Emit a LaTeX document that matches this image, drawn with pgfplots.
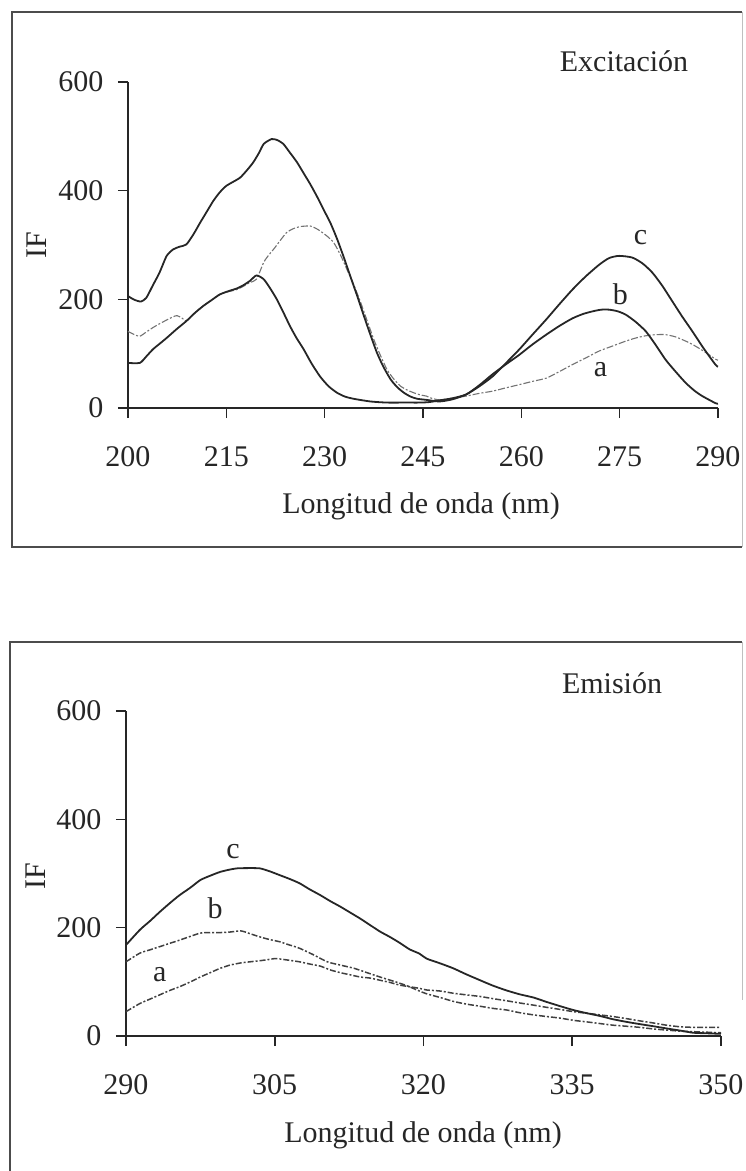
\documentclass[border=0pt]{standalone}
\usepackage{fontspec}
\setmainfont{Liberation Serif}
\usepackage{pgfplots}
\pgfplotsset{compat=1.18}

\pgfplotstableread{
x y
200 206
201 199
202 196
202.8 203
203.8 226
204.8 249
205.9 280
206.9 292
207.9 297
208.9 301
210 320
211 341
212 361
213 381
214 397
215 409
216 416
217.1 424
218.1 437
219.1 452
220 470
220.7 486
221.9 495
222.8 493
223.7 486
224.7 470
225.8 452
226.8 432
227.8 412
228.8 390
229.8 366
230.9 340
231.9 311
232.9 278
233.9 243
235 205
236 169
237 134
238 101
239 75
240.1 52
241.1 38
242.1 28
243.1 21
244.1 17
245.5 15
247.5 12
249.5 16
251.6 25
253.6 40
255.6 58
257.6 82
259.7 108
261.7 135
263.8 163
265.8 191
267.8 218
269.8 242
271.9 264
273.4 276
274.9 280
276.9 277
278.5 266
280 249
281.5 225
283 197
284.5 169
286.1 141
287.8 110
289.6 80
290 76
}\exc

\pgfplotstableread{
x y
200 83
201.8 83
202.8 95
203.8 108
204.9 119
205.9 129
207.4 145
208.9 160
210.2 175
211.5 188
212.8 199
214 209
215.3 215
216.6 220
217.6 226
218.6 234
219.6 244
220.7 237
221.7 220
222.7 200
223.7 176
224.7 151
225.7 129
226.8 108
228 82
229.3 58
230.6 40
231.9 28
233.1 21
234.4 17
237 12
239.5 10
242 10
244.6 10
246 11
247.5 14
249.5 18
251.6 25
253.6 42
255.6 62
257.6 80
259.7 98
261.7 117
263.8 135
265.8 151
267.8 165
269.4 173
270.9 178
272.2 181
273.4 181
274.7 178
275.9 172
277.4 159
279 141
280.5 116
282 89
283.6 66
285.1 46
286.4 32
287.6 22
289.6 9
290 8
}\exb

\pgfplotstableread{
x y
200 141
201 135
201.8 132
202.8 140
203.8 148
204.8 155
205.9 162
206.9 168
207.5 170
208.3 165
208.9 160
210.2 175
211.5 188
212.8 199
214 209
215.3 214
216.6 218
217.6 224
218.6 231
219.6 237
220.7 268
221.5 282
222.2 292
223.2 308
224.2 323
225.2 330
226.3 334
227.8 335
228.6 331
229.3 326
230.4 316
231.4 304
232.4 282
233.4 255
234.5 225
235.5 194
236.5 160
237.5 126
238.5 97
239.5 71
240.5 54
241.6 40
242.6 33
243.6 28
244.6 24
245.5 22
246.3 18
247.5 15
249.5 18
251.6 22
253.6 27
255.6 31
257.6 37
259.7 43
261.7 49
263.8 55
265.8 67
267.8 80
269.8 92
271.9 105
273.9 114
275.9 123
277.5 129
279 133
280.5 135
282 135
283.5 131
285.1 123
286.1 117
287.1 110
288.4 100
289.6 90
290 88
}\exa

\pgfplotstableread{
x y
290 168
291.4 196
292.4 212
293.4 229
294.4 245
295.4 260
296.5 274
297.5 288
298.5 296
299.5 303
300.4 307
301.2 309.5
302.3 310
303.5 309.5
304.5 304
305.5 297
306.5 290
307.5 282
308.5 271
309.6 260
310.6 249
311.6 239
312.6 228
313.6 217
314.6 205
315.6 193
316.6 183
317.6 172
318.6 160
319.6 152
320.3 143
321.7 134
323 125
324.3 114
325.7 103
327 93
328.4 84
329.7 77
331.1 71
332.4 63
333.8 55
335.1 48
336.5 42
337.8 37
339.1 31
340.5 26
341.8 22
343.2 18
344.5 14
345.9 10
347.2 6
348.6 5
350 4
}\emc

\pgfplotstableread{
x y
290 137
291.4 153
292.4 159
293.4 165
294.4 171
295.4 177
296.5 184
297.5 190
298.5 191
299.5 191
300.5 192
301.6 194
302.5 189
303.5 183
304.5 178
305.5 174
306.5 168
307.5 162
308.9 150
310.3 137
311.6 131
313 125
314.3 117
315.6 109
317 101
318.3 93
319.6 83
320.3 78
321.7 71
323 64
324.3 59
325.7 55
327 51
328.4 48
329.7 43
331.1 39
332.4 36
333.8 33
335.1 29
336.5 26
337.8 23
339.1 20
340.5 18
341.8 16
343.2 13
344.5 11
345.9 9
347.2 8
348.6 7
350 6
}\emb

\pgfplotstableread{
x y
290 45
291.4 60
292.4 68
293.4 76
294.4 84
295.4 91
296.5 100
297.5 109
298.5 117
299.5 125
300.5 131
301.6 135
302.5 137
303.5 139
304.3 141
305.1 143
306 141
307.5 137
308.5 133
309.6 129
310.6 122
311.6 117
312.6 113
313.6 109
314.6 107
315.6 103
316.6 99
317.6 94
318.6 91
319.6 88
320.3 85
321.7 83
323 79
324.3 76
325.7 73
327 69
328.4 65
329.7 61
331.1 57
332.4 53
333.8 49
335.1 45
336.5 42
337.8 39
339.1 36
340.5 32
341.8 28
343.2 24
344.5 20
345.9 17
347.2 16
348.6 16
350 16
}\ema

\definecolor{ink}{gray}{0.15}
\newcommand{\bigf}{\fontsize{30}{36}\selectfont}

\pgfplotsset{
  myax/.style={
    scale only axis,
    anchor=south west,
    axis lines=left,
    axis line style={-, line width=1.6pt, ink},
    tick style={line width=1.6pt, ink},
    tick align=outside,
    major tick length=10pt,
    ymin=0, ymax=600,
    ytick={0,200,400,600},
    yticklabels={0,200,400,600},
    tick label style={font=\fontsize{30}{36}\selectfont, text=ink},
    yticklabel style={xshift=-11pt},
    xticklabel style={yshift=-25pt},
    /pgf/number format/assume math mode=true,
    clip=false,
  },
  solidc/.style={line width=1.8pt, ink, smooth, tension=0.4},
  dashtop/.style={line width=1.1pt, black!55, smooth, tension=0.4, dash pattern=on 7pt off 2pt on 2pt off 2pt},
  dashbot/.style={line width=1.5pt, black!75, smooth, tension=0.4, dash pattern=on 6pt off 2pt on 2pt off 2pt},
}

\begin{document}
\begin{tikzpicture}[x=1pt,y=1pt]
\path[use as bounding box] (0,0) rectangle (745,-1171);
% frames
\draw[line width=1.4pt, black!70] (742,-12) -- (12,-12) -- (12,-547) -- (742,-547);
\draw[line width=0.8pt, black!25] (742,-12) -- (742,-547);
\draw[line width=1.4pt, black!70] (742,-642) -- (10,-642) -- (10,-1171);
\draw[line width=0.8pt, black!25] (742,-642) -- (742,-1000);

\begin{axis}[myax, at={(128pt,-408pt)}, width=590pt, height=326pt,
  xmin=200, xmax=290, xtick={200,215,230,245,260,275,290},
  xticklabels={200,215,230,245,260,275,290}]
  \addplot[dashtop] table[x=x,y=y] {\exa};
  \addplot[solidc] table[x=x,y=y] {\exb};
  \addplot[solidc] table[x=x,y=y] {\exc};
  \node[font=\bigf, text=ink] at (axis cs:278.2,314) {c};
  \node[font=\bigf, text=ink] at (axis cs:275.1,210) {b};
  \node[font=\bigf, text=ink] at (axis cs:272.1,71) {a};
\end{axis}

\begin{axis}[myax, at={(126pt,-1036pt)}, width=595pt, height=325pt,
  xmin=290, xmax=350, xtick={290,305,320,335,350},
  xticklabels={290,305,320,335,350}]
  \addplot[dashbot] table[x=x,y=y] {\ema};
  \addplot[dashbot] table[x=x,y=y] {\emb};
  \addplot[solidc] table[x=x,y=y] {\emc};
  \node[font=\bigf, text=ink] at (axis cs:300.8,340) {c};
  \node[font=\bigf, text=ink] at (axis cs:299,236) {b};
  \node[font=\bigf, text=ink] at (axis cs:293.4,113) {a};
\end{axis}

\node[font=\bigf, text=ink, anchor=base] at (624,-71) {Excitación};
\node[font=\bigf, text=ink, anchor=base] at (612,-693) {Emisión};
\node[font=\bigf, text=ink, rotate=90] at (37,-245) {IF};
\node[font=\bigf, text=ink, rotate=90] at (36,-876) {IF};
\node[font=\bigf, text=ink, anchor=base] at (421,-513) {Longitud de onda (nm)};
\node[font=\bigf, text=ink, anchor=base] at (423,-1142) {Longitud de onda (nm)};
\end{tikzpicture}
\end{document}
